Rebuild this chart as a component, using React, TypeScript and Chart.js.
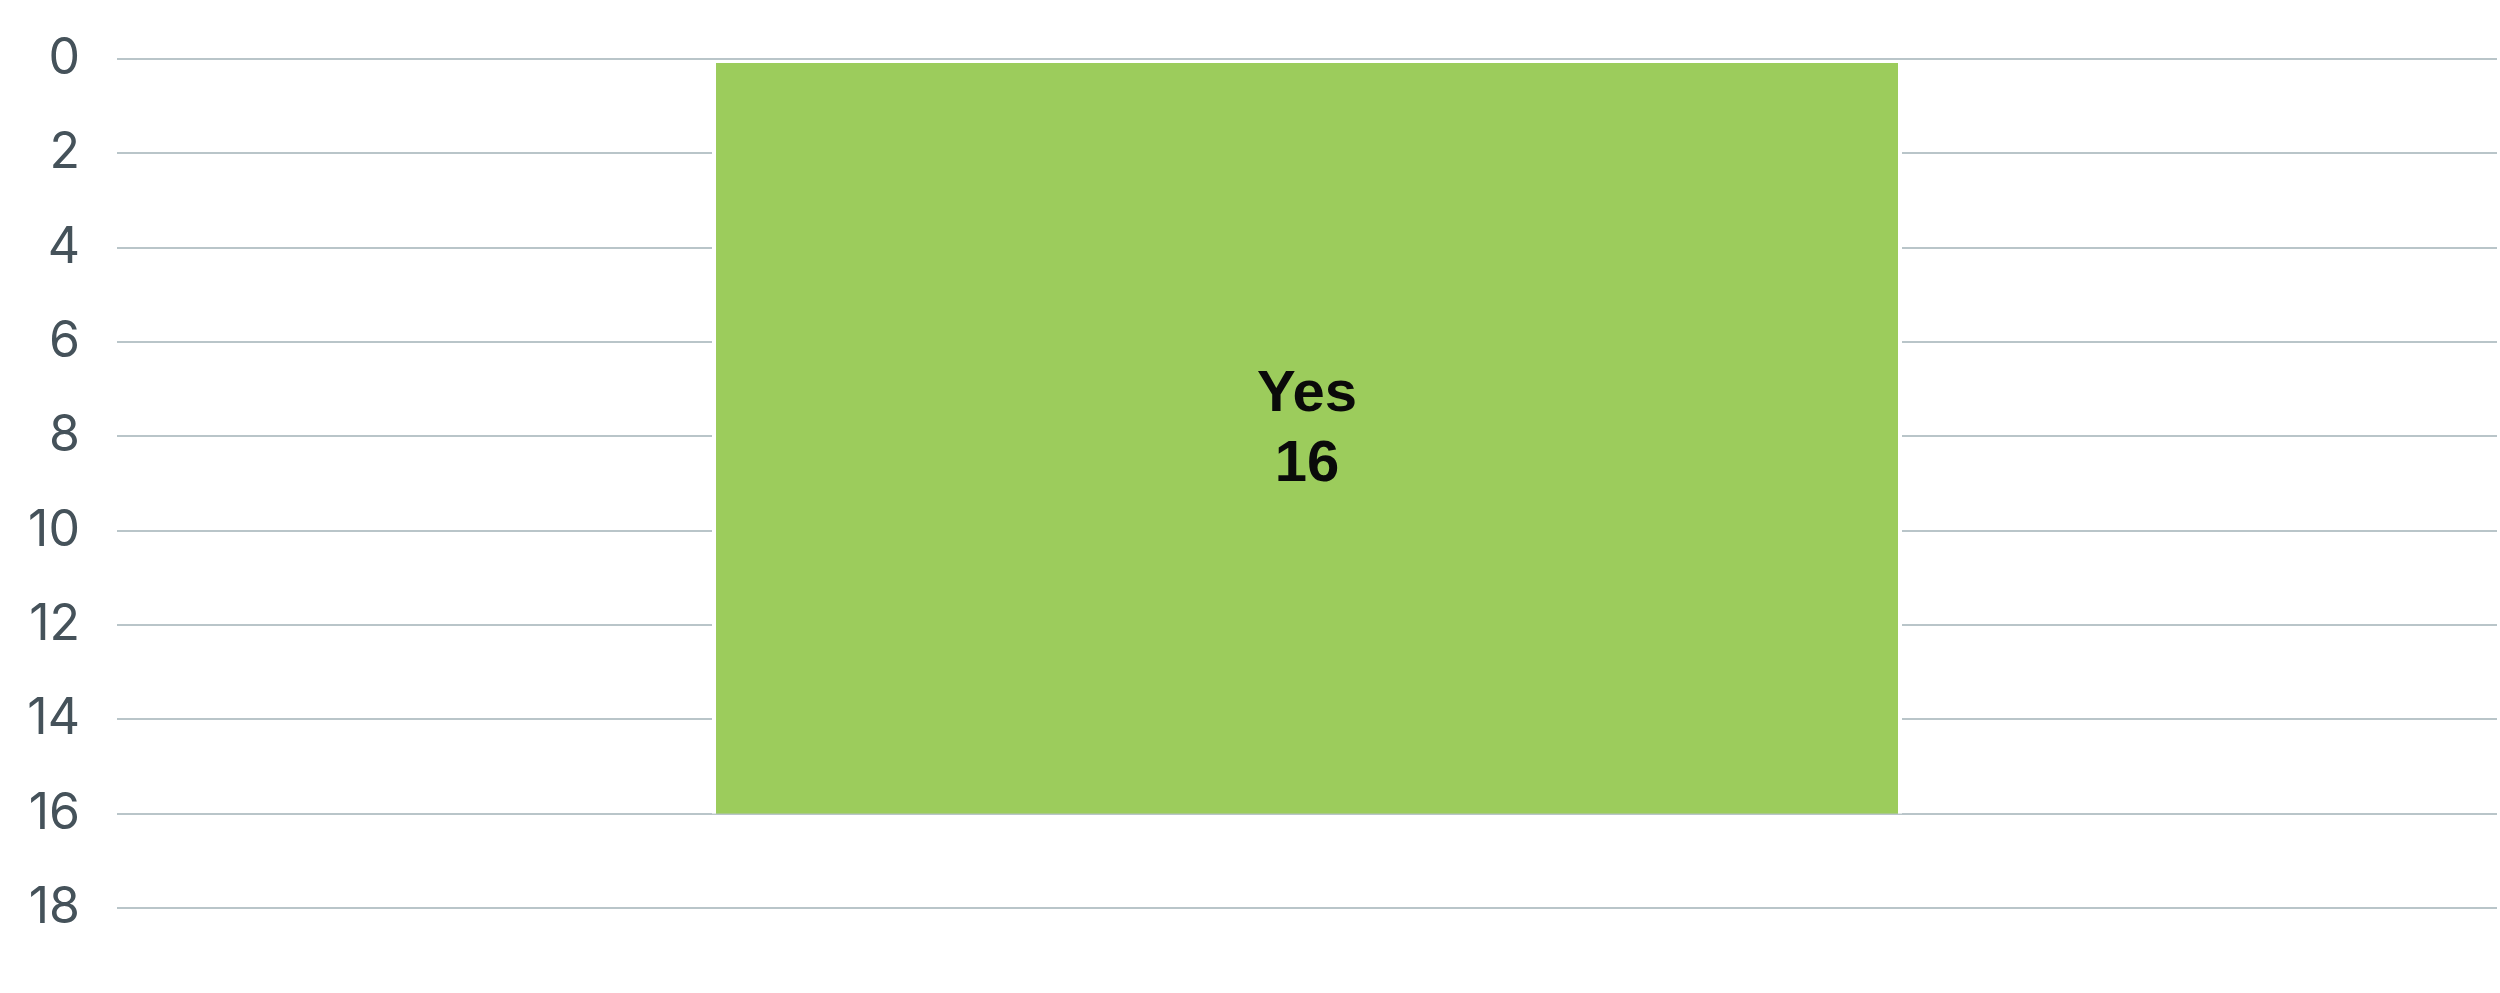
import React, { useEffect, useRef } from "react";
import { Chart, registerables } from "chart.js";

Chart.register(...registerables);

// chart data
const categories = ["Yes"];
const counts = [16];
const yTicks = { min: 0, max: 18, step: 2 };

const barColor = "#9ccc5c";
const gridColor = "#b9c5c9";
const tickColor = "#45525a";

// draws "label / value" in the middle of each bar
const barTextPlugin = {
    id: "barText",
    afterDatasetsDraw(chart: any) {
        const ctx = chart.ctx;
        const meta = chart.getDatasetMeta(0);
        ctx.save();
        ctx.fillStyle = "#0a0a0a";
        ctx.font = "bold 58px 'Liberation Sans', Arial, sans-serif";
        ctx.textAlign = "center";
        ctx.textBaseline = "middle";
        meta.data.forEach((bar: any, i: number) => {
            const { x, y } = bar.getCenterPoint();
            ctx.fillText(String(chart.data.labels[i]), x, y - 42);
            ctx.fillText(String(chart.data.datasets[0].data[i]), x, y + 28);
        });
        ctx.restore();
    },
};

export default function App() {
    const canvas = useRef<HTMLCanvasElement>(null);

    useEffect(() => {
        document.body.style.margin = "0";
        const chart = new Chart(canvas.current!, {
            type: "bar",
            data: {
                labels: categories,
                datasets: [
                    {
                        data: counts,
                        backgroundColor: barColor,
                        borderColor: "#ffffff",
                        borderWidth: { top: 3, right: 4, bottom: 0, left: 4 },
                        borderSkipped: false,
                        barPercentage: 0.5,
                        categoryPercentage: 1,
                    },
                ],
            },
            options: {
                animation: false,
                responsive: true,
                maintainAspectRatio: false,
                layout: { padding: { top: 59, bottom: 85, left: 0, right: 3 } },
                plugins: {
                    legend: { display: false },
                    tooltip: { enabled: false },
                },
                scales: {
                    x: { display: false },
                    y: {
                        reverse: true,
                        min: yTicks.min,
                        max: yTicks.max,
                        afterFit: (scale: any) => {
                            scale.width = 117;
                            // keep the plot edges where the layout padding puts them
                            scale.paddingTop = 0;
                            scale.paddingBottom = 0;
                        },
                        border: { display: false },
                        grid: { color: gridColor, lineWidth: 2, drawTicks: false },
                        ticks: {
                            stepSize: yTicks.step,
                            padding: 37,
                            color: tickColor,
                            font: { family: "Inter, sans-serif", size: 50 },
                        },
                    },
                },
            },
            plugins: [barTextPlugin],
        });
        return () => chart.destroy();
    }, []);

    return (
        <div style={{ position: "relative", width: 2500, height: 993 }}>
            <canvas ref={canvas}></canvas>
        </div>
    );
}
